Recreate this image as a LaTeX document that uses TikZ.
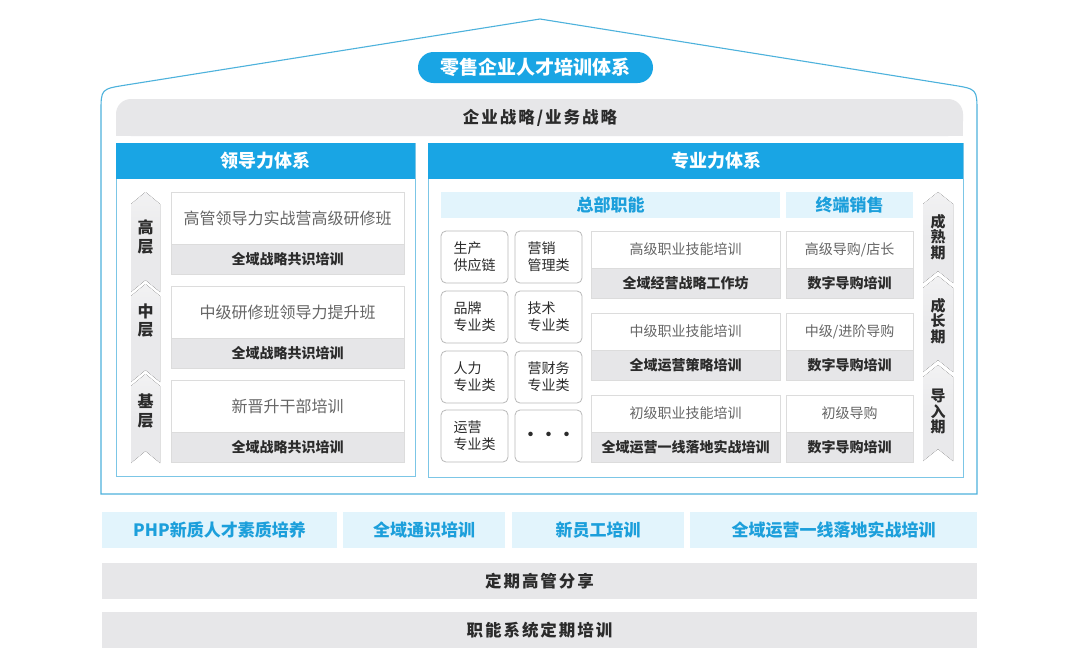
\documentclass[tikz,border=0pt]{standalone}
\usepackage{fontspec}
\setmainfont{Noto Sans CJK SC}
\newfontfamily\spc{Noto Sans CJK SC}[LetterSpace=12]
\definecolor{cyanM}{HTML}{19A5E4}
\definecolor{cyanL}{HTML}{E2F4FC}
\definecolor{cyanT}{HTML}{1C9FDB}
\definecolor{grayB}{HTML}{E7E7E9}
\definecolor{grayBox}{HTML}{E6E6E8}
\definecolor{outl}{HTML}{4DB2DC}
\definecolor{panelC}{HTML}{7CC6E6}
\definecolor{txtD}{HTML}{2B2B2B}
\definecolor{txtG}{HTML}{666666}
\definecolor{boxln}{HTML}{DCDCDC}
\definecolor{chevC}{HTML}{E9E9EB}
\begin{document}
\begin{tikzpicture}[x=1pt,y=-1pt,
  every node/.style={inner sep=0pt, outer sep=0pt},
  nw/.style={anchor=north west},
  pill/.style={fill=cyanM, rounded corners=15.5pt, text=white, minimum width=235pt, minimum height=31pt, font=\fontsize{19}{22}\selectfont\bfseries},
  hdr/.style={nw, fill=cyanM, text=white, minimum height=36pt, font=\fontsize{18}{21}\selectfont\bfseries},
  lband/.style={nw, fill=cyanL, text=cyanT, font=\fontsize{17}{20}\selectfont\bfseries},
  gband/.style={nw, fill=grayB, text=txtD, minimum width=875pt, minimum height=36pt, font=\fontsize{16.5}{20}\selectfont\spc\bfseries},
  toptxt/.style={nw, fill=white, draw=boxln, text=txtG},
  bottxt/.style={nw, fill=grayBox, draw=boxln, text=txtD, font=\fontsize{14}{17}\selectfont\bfseries},
  smallbox/.style={nw, fill=white, draw=gray!55, line width=0.8pt, rounded corners=5pt, minimum width=67pt, minimum height=52pt, text=txtD, align=left, font=\fontsize{14}{17}\selectfont},
  chevlab/.style={text=txtD, align=center, font=\fontsize{16}{18.5}\selectfont\bfseries},
  panel/.style={draw=panelC, line width=0.9pt},
  roof/.style={draw=outl, line width=1.1pt},
  chev/.style={top color=chevC!60, bottom color=chevC, middle color=chevC}
]
\useasboundingbox (0,0) rectangle (1080,670);
\fill[white] (0,0) rectangle (1080,670);

% roof and outer frame
\draw[roof] (101,494) -- (101,112) .. controls (101,89) .. (125.7,85.05) -- (540,19)
  -- (952.3,85.05) .. controls (977,89) .. (977,112) -- (977,494) -- cycle;

% title
\node[pill] (title) at (535.5,67.5) {零售企业人才培训体系};

% strategy band
\fill[grayB, rounded corners=15pt] (116,99) rectangle (963,136);
\fill[grayB] (116,118) rectangle (963,136);
\node[text=txtD, font=\fontsize{16.5}{20}\selectfont\spc\bfseries] (strat) at (540,118) {企业战略/业务战略};

% panels
\draw[panel] (116,143) rectangle (415,476);
\draw[panel] (428,143) rectangle (963,477);
\node[hdr, minimum width=299pt] (lhdr) at (116,143) {领导力体系};
\node[hdr, minimum width=535pt] (rhdr) at (428,143) {};
\node[text=white, font=\fontsize{18}{21}\selectfont\bfseries] (rhdrtxt) at (716,161) {专业力体系};

% left chevrons
\fill[chev] (131,204) -- (145.5,192) -- (160,204) -- (160,292) -- (145.5,280) -- (131,292) -- cycle;
\fill[chev] (131,296) -- (145.5,284) -- (160,296) -- (160,382) -- (145.5,370) -- (131,382) -- cycle;
\fill[chev] (131,386) -- (145.5,374) -- (160,386) -- (160,463) -- (145.5,451) -- (131,463) -- cycle;
\node[chevlab] (lv1) at (145.5,237) {高\\层};
\node[chevlab] (lv2) at (145.5,320.5) {中\\层};
\node[chevlab] (lv3) at (145.5,411) {基\\层};

% left blocks
\node[toptxt, minimum width=233pt, minimum height=52pt, font=\fontsize{16}{19}\selectfont] (l1t) at (171,192) {高管领导力实战营高级研修班};
\node[bottxt, minimum width=233pt, minimum height=30pt] (l1b) at (171,244) {全域战略共识培训};
\node[toptxt, minimum width=233pt, minimum height=52pt, font=\fontsize{16}{19}\selectfont] (l2t) at (171,286) {中级研修班领导力提升班};
\node[bottxt, minimum width=233pt, minimum height=30pt] (l2b) at (171,338) {全域战略共识培训};
\node[toptxt, minimum width=233pt, minimum height=52pt, font=\fontsize{16}{19}\selectfont] (l3t) at (171,380) {新晋升干部培训};
\node[bottxt, minimum width=233pt, minimum height=30pt] (l3b) at (171,432) {全域战略共识培训};

% right sub headers
\node[lband, minimum width=339pt, minimum height=26pt] (hq) at (441,192) {总部职能};
\node[lband, minimum width=127pt, minimum height=26pt] (term) at (786,192) {终端销售};

% small boxes
\node[smallbox] (s11) at (441,231) {生产\\供应链};
\node[smallbox] (s12) at (515,231) {营销\\管理类};
\node[smallbox] (s21) at (441,291) {品牌\\专业类};
\node[smallbox] (s22) at (515,291) {技术\\专业类};
\node[smallbox] (s31) at (441,351) {人力\\专业类};
\node[smallbox] (s32) at (515,351) {营财务\\专业类};
\node[smallbox] (s41) at (441,410) {运营\\专业类};
\node[smallbox, align=center, font=\fontsize{16}{17}\selectfont\bfseries] (s42) at (515,410) {·\hspace{2pt}·\hspace{2pt}·};

% middle blocks
\node[toptxt, minimum width=189pt, minimum height=37pt, font=\fontsize{14}{17}\selectfont] (m1t) at (591,231) {高级职业技能培训};
\node[bottxt, minimum width=189pt, minimum height=30pt] (m1b) at (591,268) {全域经营战略工作坊};
\node[toptxt, minimum width=189pt, minimum height=37pt, font=\fontsize{14}{17}\selectfont] (m2t) at (591,313) {中级职业技能培训};
\node[bottxt, minimum width=189pt, minimum height=30pt] (m2b) at (591,350) {全域运营策略培训};
\node[toptxt, minimum width=189pt, minimum height=37pt, font=\fontsize{14}{17}\selectfont] (m3t) at (591,395) {初级职业技能培训};
\node[bottxt, minimum width=189pt, minimum height=30pt] (m3b) at (591,432) {全域运营一线落地实战培训};

% right blocks
\node[toptxt, minimum width=127pt, minimum height=37pt, font=\fontsize{14}{17}\selectfont] (r1t) at (786,231) {高级导购/店长};
\node[bottxt, minimum width=127pt, minimum height=30pt] (r1b) at (786,268) {数字导购培训};
\node[toptxt, minimum width=127pt, minimum height=37pt, font=\fontsize{14}{17}\selectfont] (r2t) at (786,313) {中级/进阶导购};
\node[bottxt, minimum width=127pt, minimum height=30pt] (r2b) at (786,350) {数字导购培训};
\node[toptxt, minimum width=127pt, minimum height=37pt, font=\fontsize{14}{17}\selectfont] (r3t) at (786,395) {初级导购};
\node[bottxt, minimum width=127pt, minimum height=30pt] (r3b) at (786,432) {数字导购培训};

% right chevrons
\fill[chev] (923,204) -- (938,192) -- (953,204) -- (953,283) -- (938,271) -- (923,283) -- cycle;
\fill[chev] (923,288) -- (938,276) -- (953,288) -- (953,372) -- (938,360) -- (923,372) -- cycle;
\fill[chev] (923,377) -- (938,365) -- (953,377) -- (953,461) -- (938,449) -- (923,461) -- cycle;
\node[chevlab, font=\fontsize{15}{15.5}\selectfont\bfseries] (p1) at (938,237) {成\\熟\\期};
\node[chevlab, font=\fontsize{15}{15.5}\selectfont\bfseries] (p2) at (938,321) {成\\长\\期};
\node[chevlab, font=\fontsize{15}{15.5}\selectfont\bfseries] (p3) at (938,411.5) {导\\入\\期};

% bottom light bands
\node[lband, minimum width=235pt, minimum height=36pt] (c1) at (102,512) {PHP新质人才素质培养};
\node[lband, minimum width=162pt, minimum height=36pt] (c2) at (343,512) {全域通识培训};
\node[lband, minimum width=172pt, minimum height=36pt] (c3) at (512,512) {新员工培训};
\node[lband, minimum width=287pt, minimum height=36pt] (c4) at (690,512) {全域运营一线落地实战培训};

% bottom gray bands
\node[gband] (g1) at (102,563) {定期高管分享};
\node[gband] (g2) at (102,612) {职能系统定期培训};
\end{tikzpicture}
\end{document}
